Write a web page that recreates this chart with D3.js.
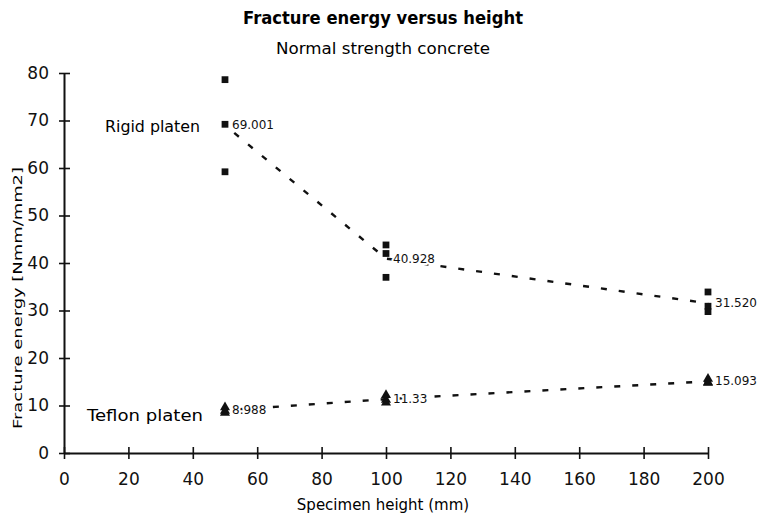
<!DOCTYPE html>
<html>
<head>
<meta charset="utf-8">
<script src="https://cdn.jsdelivr.net/npm/d3@7"></script>
<style>
  html, body { margin: 0; padding: 0; background: #fff; }
  svg { display: block; font-family: "DejaVu Sans", sans-serif; }
</style>
</head>
<body>
<svg id="chart" width="760" height="517"></svg>
<script>
// Specimen heights (mm)
const heights = [50, 100, 200];

// Individual test results, rigid platen (Nmm/mm2)
const rigidH = [50, 50, 50, 100, 100, 100, 200, 200, 200];
const rigidE = [78.6, 69.2, 59.203, 43.8, 42.0, 36.98, 33.9, 30.9, 29.76];

// Individual test results, teflon platen (Nmm/mm2)
const teflonH = [50, 50, 50, 100, 100, 100, 200, 200, 200];
const teflonE = [9.6, 8.9, 8.466, 12.2, 11.2, 10.59, 15.6, 14.9, 14.78];

// Mean values per height
const rigidMean = [69.001, 40.928, 31.520];
const teflonMean = [8.988, 11.33, 15.093];
const rigidMeanLabels = ["69.001", "40.928", "31.520"];
const teflonMeanLabels = ["8.988", "11.33", "15.093"];

// Axis ticks
const xTicks = [0, 20, 40, 60, 80, 100, 120, 140, 160, 180, 200];
const yTicks = [0, 10, 20, 30, 40, 50, 60, 70, 80];

const svg = d3.select("#chart");

const x = d3.scaleLinear().domain([0, 200]).range([64, 708]);
const y = d3.scaleLinear().domain([0, 80]).range([453, 73]);

// Titles
svg.append("text").attr("x", 383).attr("y", 24).attr("text-anchor", "middle")
  .attr("font-size", 17).attr("font-weight", "bold")
  .attr("textLength", 280).attr("lengthAdjust", "spacingAndGlyphs")
  .text("Fracture energy versus height");
svg.append("text").attr("x", 383).attr("y", 54).attr("text-anchor", "middle")
  .attr("font-size", 15).attr("textLength", 214).attr("lengthAdjust", "spacingAndGlyphs")
  .text("Normal strength concrete");

// Axes with ticks crossing the axis line
const xAxis = svg.append("g").attr("transform", `translate(0,${y(0)})`)
  .call(d3.axisBottom(x).tickValues(xTicks).tickSizeInner(6).tickSizeOuter(0).tickPadding(14));
const yAxis = svg.append("g").attr("transform", `translate(${x(0)},0)`)
  .call(d3.axisLeft(y).tickValues(yTicks).tickSizeInner(5).tickSizeOuter(0).tickPadding(10));

[xAxis, yAxis].forEach(g => {
  g.select(".domain").attr("stroke", "#111").attr("stroke-width", 2);
  g.selectAll(".tick line").attr("stroke", "#111").attr("stroke-width", 1.6);
  g.selectAll(".tick text").attr("font-size", 17).attr("fill", "#111")
    .attr("font-family", "DejaVu Sans, sans-serif");
});
xAxis.selectAll(".tick line").attr("y1", -6).attr("y2", 6);
yAxis.selectAll(".tick line").attr("x1", -5).attr("x2", 6);

// Axis titles
svg.append("text").attr("x", 383).attr("y", 510).attr("text-anchor", "middle")
  .attr("font-size", 15).text("Specimen height (mm)");
svg.append("text").attr("transform", "translate(22,298) rotate(-90)")
  .attr("text-anchor", "middle").attr("font-size", 13)
  .attr("textLength", 262).attr("lengthAdjust", "spacingAndGlyphs")
  .text("Fracture energy [Nmm/mm2]");

// Dashed mean lines
const line = d3.line().x(d => x(d[0])).y(d => y(d[1]));
[rigidMean, teflonMean].forEach(means => {
  svg.append("path")
    .datum(heights.map((h, i) => [h, means[i]]))
    .attr("d", line)
    .attr("fill", "none").attr("stroke", "#111").attr("stroke-width", 2.4)
    .attr("stroke-dasharray", "6,12").attr("stroke-dashoffset", -12);
});

// Markers
const square = d3.symbol().type(d3.symbolSquare).size(46);
const tri = d3.symbol().type(d3.symbolTriangle).size(44);
svg.append("g").selectAll("path").data(rigidE).join("path")
  .attr("d", square)
  .attr("transform", (d, i) => `translate(${x(rigidH[i])},${y(d)})`)
  .attr("fill", "#111");
svg.append("g").selectAll("path").data(teflonE).join("path")
  .attr("d", tri)
  .attr("transform", (d, i) => `translate(${x(teflonH[i])},${y(d)})`)
  .attr("fill", "#111");

// Mean value labels, with a white halo so the dashed line stops short of them
const labelGroup = svg.append("g").attr("font-size", 12).attr("fill", "#111")
  .attr("stroke", "#fff").attr("stroke-width", 4).attr("paint-order", "stroke")
  .attr("stroke-linejoin", "round");
heights.forEach((h, i) => {
  labelGroup.append("text").attr("x", x(h) + 7).attr("y", y(rigidMean[i]) + 4)
    .text(rigidMeanLabels[i]);
  labelGroup.append("text").attr("x", x(h) + 7).attr("y", y(teflonMean[i]) + 4)
    .text(teflonMeanLabels[i]);
});

// Series names
svg.append("text").attr("x", 105).attr("y", 132).attr("font-size", 16)
  .attr("textLength", 95).attr("lengthAdjust", "spacingAndGlyphs").text("Rigid platen");
svg.append("text").attr("x", 87).attr("y", 421).attr("font-size", 16)
  .attr("textLength", 116).attr("lengthAdjust", "spacingAndGlyphs").text("Teflon platen");
</script>
</body>
</html>
